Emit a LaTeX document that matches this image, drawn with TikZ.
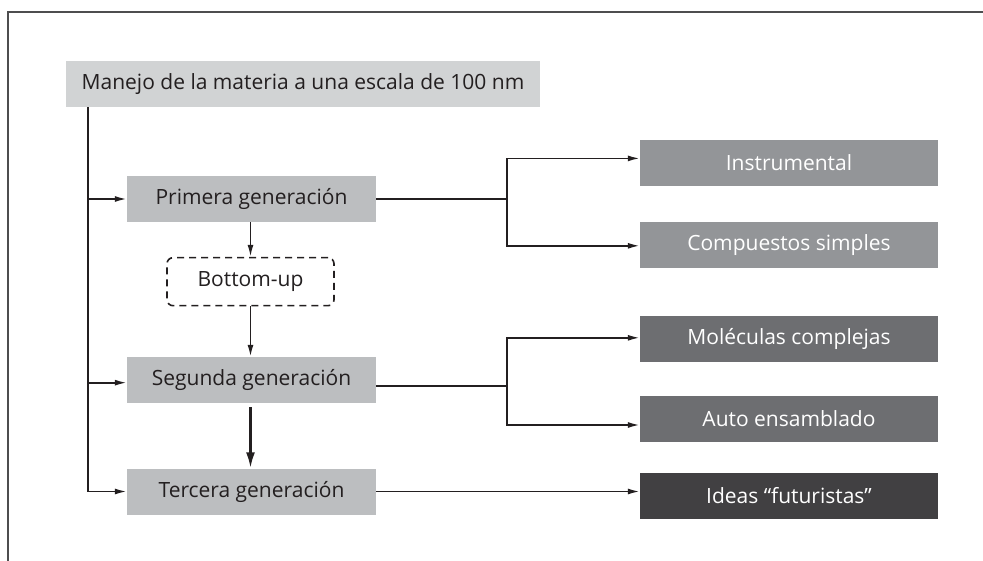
\documentclass[tikz,border=0pt]{standalone}
\usepackage{fontspec}
\setmainfont{Open Sans}
\usetikzlibrary{arrows.meta}
\definecolor{txt}{HTML}{231F20}
\definecolor{cTop}{HTML}{D1D3D4}
\definecolor{cGen}{HTML}{BCBEC0}
\definecolor{cLight}{HTML}{939598}
\definecolor{cMid}{HTML}{6D6E71}
\definecolor{cDark}{HTML}{414042}
\definecolor{frame}{HTML}{4D4D4F}
\tikzset{
  base/.style={inner sep=0pt, font=\fontsize{21}{24}\selectfont},
  topbox/.style={base, fill=cTop, text=txt, minimum width=474pt, minimum height=46pt},
  genbox/.style={base, fill=cGen, text=txt, minimum width=249pt, minimum height=46pt},
  dashbox/.style={base, draw=txt, dashed, dash pattern=on 7pt off 5pt, line width=1.6pt, rounded corners=6pt, text=txt, minimum width=167pt, minimum height=48pt},
  rbox/.style={base, text=white, minimum width=298pt, minimum height=46pt},
  conn/.style={draw=txt, line width=1.7pt},
  arr/.style={conn, -{Latex[length=12pt,width=6pt]}},
  bigarr/.style={draw=txt, line width=2.6pt, -{Latex[length=16pt,width=9pt]}},
}
\begin{document}
\begin{tikzpicture}[x=1pt,y=-1pt]
\useasboundingbox (0,0) rectangle (983,561);
% frame
\draw[frame, line width=1.8pt] (8,561) -- (8,12) -- (983,12);
% nodes
\node[topbox] (top) at (303,84) {Manejo de la materia a una escala de 100 nm};
\node[genbox] (prim) at (251.5,199) {Primera generación};
\node[dashbox] (bot) at (250.5,281.7) {Bottom-up};
\node[genbox] (seg) at (251.5,380) {Segunda generación};
\node[genbox] (ter) at (251.5,491.5) {Tercera generación};
\node[rbox, fill=cLight] (ins) at (789,163) {Instrumental};
\node[rbox, fill=cLight] (comp) at (789,245) {Compuestos simples};
\node[rbox, fill=cMid] (mol) at (789,339) {Moléculas complejas};
\node[rbox, fill=cMid] (auto) at (789,419) {Auto ensamblado};
\node[rbox, fill=cDark] (ideas) at (789,496) {Ideas “futuristas”};
% trunk
\coordinate (tk) at (88,0);
\coordinate (br1) at (507,198.7);
\coordinate (br2) at (507,385.7);
\draw[conn] (top.south -| tk) -- (ter.west -| tk);
\draw[arr] (prim.west -| tk) -- (prim.west);
\draw[arr] ([yshift=-2.7pt]seg.west -| tk) -- ([yshift=-2.7pt]seg.west);
\draw[arr] (ter.west -| tk) -- (ter.west);
% vertical flow
\draw[arr] (prim.south -| bot.north) -- (bot.north);
\draw[arr] (bot.south) -- (seg.north -| bot.south);
\draw[bigarr] ([yshift=-4pt]seg.south -| bot.south) -- (ter.north -| bot.south);
% right side
\draw[conn] (prim.east |- br1) -- (br1);
\draw[arr] (br1) |- ([yshift=4.6pt]ins.west);
\draw[arr] (br1) |- ([yshift=-0.8pt]comp.west);
\draw[conn] (seg.east |- br2) -- (br2);
\draw[arr] (br2) |- ([yshift=1.2pt]mol.west);
\draw[arr] (br2) |- ([yshift=-6pt]auto.west);
\draw[arr] (ter.east) -- (ter.east -| ideas.west);
\end{tikzpicture}
\end{document}
